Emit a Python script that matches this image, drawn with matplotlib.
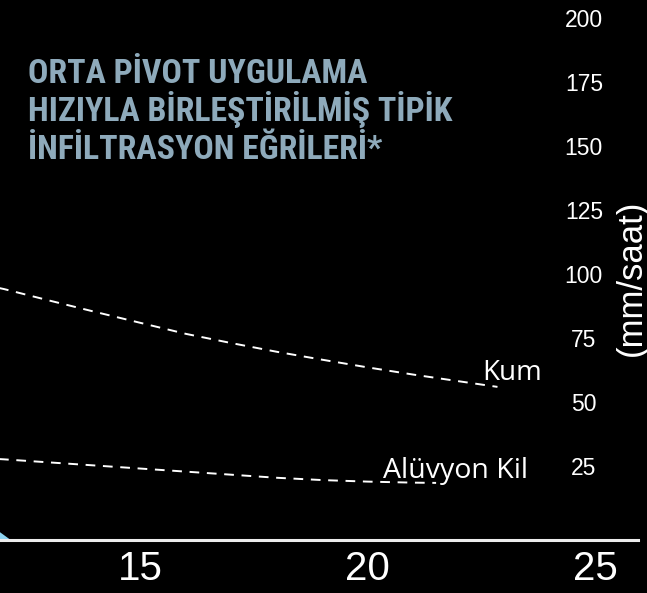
import matplotlib.pyplot as plt

plt.rcParams['lines.scale_dashes'] = False

# reading off the picture
kum_x = [11.5, 12, 13, 14, 15, 16, 17, 18, 19, 20, 21, 22, 22.85]
kum_y = [96.0, 94.1, 89.6, 85.2, 80.9, 76.6, 73.0, 69.6, 66.5, 63.5, 60.7, 58.1, 55.9]
kil_x = [11.5, 12, 13, 14, 15, 16, 17, 18, 19, 20, 21, 21.5]
kil_y = [28.1, 27.6, 26.4, 25.2, 24.0, 22.8, 21.6, 20.4, 19.5, 18.9, 18.5, 18.4]
rate_x = [11.5, 11.91, 12.15]
rate_y = [3.8, -0.8, -3.9]

x_ticks = [15, 20, 25]
y_ticks = [25, 50, 75, 100, 125, 150, 175, 200]
title_lines = ['ORTA PİVOT UYGULAMA',
               'HIZIYLA BİRLEŞTİRİLMİŞ TİPİK',
               'İNFİLTRASYON EĞRİLERİ*']

W, H = 647, 593
fig = plt.figure(figsize=(W / 100, H / 100), dpi=100, facecolor='black')
ax = fig.add_axes([0, 53 / H, 638 / W, 1 - 53 / H])
ax.set_facecolor('black')

ax.set_xlim(11.91, 25.94)
ax.set_ylim(-3.9, 207)

ax.fill_between(rate_x, rate_y, -3.9, color='#8dd3f0', lw=0)
ax.plot(kum_x, kum_y, color='white', lw=1.4, dashes=(7, 5.5))
ax.plot(kil_x, kil_y, color='white', lw=1.4, dashes=(7, 5.5))

ax.text(22.52, 58.6, 'Kum', color='white', fontsize=20,
        family='Open Sans', va='baseline', ha='left')
ax.text(20.34, 20.3, 'Alüvyon Kil', color='white', fontsize=20.5,
        family='Open Sans', va='baseline', ha='left')

for s in ['top', 'left', 'right']:
    ax.spines[s].set_visible(False)
ax.spines['bottom'].set_color('#ececec')
ax.spines['bottom'].set_linewidth(2.2)

ax.set_xticks(x_ticks)
ax.set_xticklabels([str(t) for t in x_ticks], family='Liberation Sans')
ax.tick_params(axis='x', length=0, pad=7.5, labelsize=29, colors='white')

ax.yaxis.tick_right()
ax.set_yticks(y_ticks)
ax.set_yticklabels([str(t) for t in y_ticks], family='Liberation Sans', ha='center')
ax.tick_params(axis='y', length=0, pad=-39, labelsize=16.5, colors='white')

fig.text(631 / W, 1 - 278 / H, '(mm/saat)', rotation=90, color='white',
         fontsize=25, family='Liberation Sans', ha='center', va='center')

# title: condensed face if there is one, sized so the widest line is ~426 px
titles = []
for line, base in zip(title_lines, [83, 121, 159]):
    t = fig.text(28 / W, 1 - base / H, line, color='#8eaabb', fontsize=25,
                 family=['Roboto Condensed', 'Roboto'], weight='bold',
                 va='baseline', ha='left')
    titles.append(t)
r = fig.canvas.get_renderer()
w = titles[1].get_window_extent(r).width
size = min(25 * 426 / w, 27)
for t in titles:
    t.set_fontsize(size)

fig.savefig('out.png', dpi=100, facecolor='black')
